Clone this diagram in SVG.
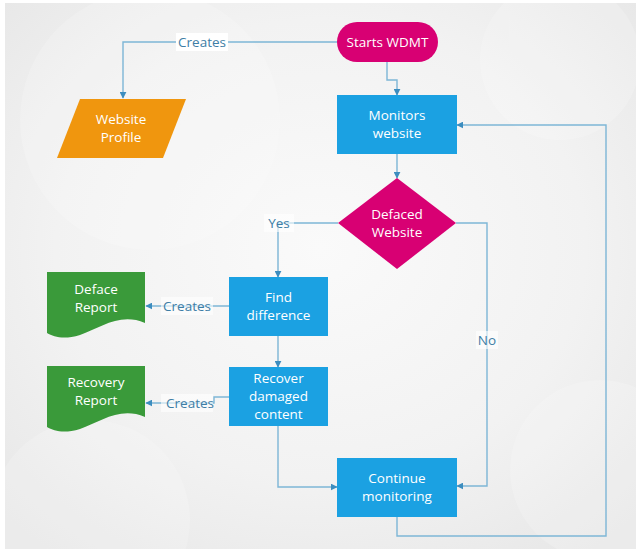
<svg xmlns="http://www.w3.org/2000/svg" width="638" height="552" viewBox="0 0 638 552">
  <defs>
    <radialGradient id="bg" cx="0.5" cy="0.45" r="0.7">
      <stop offset="0" stop-color="#FAFAFA"/>
      <stop offset="0.6" stop-color="#F2F2F2"/>
      <stop offset="1" stop-color="#E7E7E7"/>
    </radialGradient>
    <marker id="arrow" viewBox="0 0 10 10" refX="9" refY="5" markerWidth="7" markerHeight="7" orient="auto" markerUnits="userSpaceOnUse">
      <path d="M0,0 L10,5 L0,10 Z" fill="#3C8DBF"/>
    </marker>
    <style>
      .node-text { font-family: "Open Sans", "Noto Sans", "DejaVu Sans", sans-serif; font-size: 13.5px; fill: #FFFFFF; text-anchor: middle; }
      .edge { fill: none; stroke: #7DB6D6; stroke-width: 1.4; }
      .arrowed { marker-end: url(#arrow); }
      .label-bg { fill: #FFFFFF; }
      .label { font-family: "Open Sans", "Noto Sans", "DejaVu Sans", sans-serif; font-size: 13.5px; fill: #3E7EA6; text-anchor: middle; }
      .process { fill: #1BA1E2; }
      .decision { fill: #D80073; }
      .data { fill: #F0960E; }
      .doc { fill: #3A9A3A; }
    </style>
  </defs>

  <!-- backdrop -->
  <rect x="0" y="0" width="638" height="552" fill="#FFFFFF"/>
  <rect x="5" y="3" width="631" height="546" fill="url(#bg)"/>
  <g fill="#FFFFFF" opacity="0.18">
    <circle cx="90" cy="520" r="100"/>
    <circle cx="600" cy="470" r="90"/>
    <circle cx="150" cy="120" r="130"/>
    <circle cx="560" cy="60" r="80"/>
  </g>

  <!-- connectors -->
  <g id="connectors">
    <path class="edge arrowed" d="M337,42 H123 V98"/>
    <path class="edge arrowed" d="M387,62 V80 H397 V95"/>
    <path class="edge arrowed" d="M397,154 V178"/>
    <path class="edge arrowed" d="M338,223 H278 V277"/>
    <path class="edge arrowed" d="M456,223 H487 V486 H457"/>
    <path class="edge arrowed" d="M278,336 V367"/>
    <path class="edge arrowed" d="M229,306 H146"/>
    <path class="edge arrowed" d="M229,397 H214 V403 H146"/>
    <path class="edge arrowed" d="M278,426 V487 H337"/>
    <path class="edge arrowed" d="M397,517 V536 H606 V125 H457"/>

    <rect class="label-bg" x="176" y="33" width="52" height="18"/>
    <text class="label" x="202" y="47">Creates</text>
    <rect class="label-bg" x="264" y="214" width="30" height="18" opacity="0.6"/>
    <text class="label" x="279" y="228">Yes</text>
    <rect class="label-bg" x="476" y="331" width="22" height="18" opacity="0.6"/>
    <text class="label" x="487" y="345">No</text>
    <rect class="label-bg" x="161" y="297" width="52" height="18" opacity="0.6"/>
    <text class="label" x="187" y="311">Creates</text>
    <rect class="label-bg" x="161" y="394" width="52" height="18" opacity="0.6"/>
    <text class="label" x="190" y="408">Creates</text>
  </g>

  <!-- nodes -->
  <g id="start">
    <rect class="decision" x="337" y="22" width="101" height="40" rx="20"/>
    <text class="node-text" x="387.5" y="47">Starts WDMT</text>
  </g>

  <g id="website-profile">
    <polygon class="data" points="80,99 186,99 163,158 57,158"/>
    <text class="node-text" x="121" y="124">Website</text>
    <text class="node-text" x="121" y="142">Profile</text>
  </g>

  <g id="monitors">
    <rect class="process" x="337" y="95" width="120" height="59"/>
    <text class="node-text" x="397" y="120">Monitors</text>
    <text class="node-text" x="397" y="138">website</text>
  </g>

  <g id="defaced">
    <polygon class="decision" points="397,178 456,223 397,269 338,223"/>
    <text class="node-text" x="397" y="219">Defaced</text>
    <text class="node-text" x="397" y="237">Website</text>
  </g>

  <g id="find-difference">
    <rect class="process" x="229" y="277" width="99" height="59"/>
    <text class="node-text" x="278.5" y="302">Find</text>
    <text class="node-text" x="278.5" y="320">difference</text>
  </g>

  <g id="recover">
    <rect class="process" x="229" y="367" width="99" height="59"/>
    <text class="node-text" x="278.5" y="383">Recover</text>
    <text class="node-text" x="278.5" y="401">damaged</text>
    <text class="node-text" x="278.5" y="419">content</text>
  </g>

  <g id="continue">
    <rect class="process" x="337" y="458" width="120" height="59"/>
    <text class="node-text" x="397" y="483">Continue</text>
    <text class="node-text" x="397" y="501">monitoring</text>
  </g>

  <g id="deface-report">
    <path class="doc" d="M47,272 H145 V323 C120,312 100,328 80,335 C64,340 54,337 47,333 Z"/>
    <text class="node-text" x="96" y="294">Deface</text>
    <text class="node-text" x="96" y="312">Report</text>
  </g>

  <g id="recovery-report">
    <path class="doc" d="M47,366 H145 V417 C120,406 100,422 80,429 C64,434 54,431 47,427 Z"/>
    <text class="node-text" x="96" y="387">Recovery</text>
    <text class="node-text" x="96" y="405">Report</text>
  </g>
</svg>
